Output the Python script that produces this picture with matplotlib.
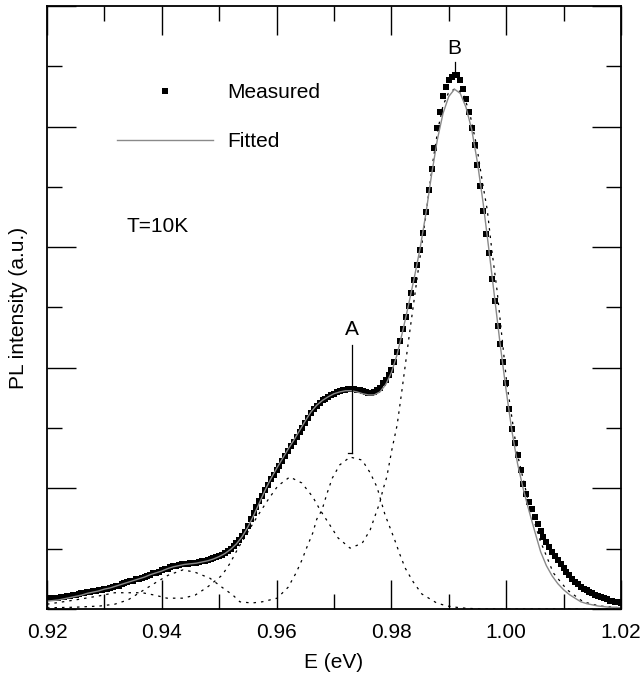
import numpy as np
import matplotlib
matplotlib.use('Agg')
import matplotlib.pyplot as plt
from matplotlib.ticker import MultipleLocator

plt.rcParams['font.family'] = ['Liberation Sans', 'DejaVu Sans']

# measured PL spectrum, sampled every 0.5 meV
E_meas = np.linspace(0.92, 1.02, 201)
I_meas = [
    0.18, 0.18, 0.19, 0.19, 0.19, 0.20, 0.20, 0.21, 0.22, 0.23,
    0.24, 0.25, 0.26, 0.27, 0.28, 0.29, 0.30, 0.30, 0.31, 0.32,
    0.33, 0.34, 0.35, 0.37, 0.38, 0.39, 0.41, 0.43, 0.44, 0.46,
    0.47, 0.49, 0.50, 0.52, 0.53, 0.55, 0.57, 0.59, 0.60, 0.62,
    0.64, 0.66, 0.67, 0.69, 0.71, 0.72, 0.73, 0.74, 0.75, 0.75,
    0.76, 0.76, 0.77, 0.78, 0.79, 0.80, 0.81, 0.83, 0.84, 0.86,
    0.88, 0.90, 0.93, 0.96, 0.99, 1.04, 1.09, 1.15, 1.21, 1.28,
    1.38, 1.50, 1.60, 1.70, 1.79, 1.88, 1.97, 2.06, 2.15, 2.23,
    2.31, 2.38, 2.46, 2.54, 2.62, 2.70, 2.77, 2.85, 2.93, 3.01,
    3.09, 3.17, 3.25, 3.31, 3.36, 3.41, 3.46, 3.49, 3.52, 3.55,
    3.57, 3.60, 3.62, 3.63, 3.64, 3.65, 3.65, 3.65, 3.64, 3.63,
    3.61, 3.60, 3.59, 3.59, 3.60, 3.63, 3.67, 3.74, 3.80, 3.88,
    3.97, 4.10, 4.26, 4.45, 4.65, 4.84, 5.03, 5.24, 5.46, 5.70,
    5.95, 6.23, 6.58, 6.95, 7.30, 7.65, 7.98, 8.25, 8.50, 8.66,
    8.77, 8.83, 8.86, 8.85, 8.77, 8.62, 8.45, 8.24, 7.98, 7.70,
    7.36, 7.02, 6.60, 6.22, 5.90, 5.48, 5.10, 4.70, 4.40, 4.10,
    3.75, 3.32, 2.98, 2.76, 2.55, 2.30, 2.07, 1.91, 1.78, 1.66,
    1.53, 1.41, 1.30, 1.20, 1.11, 1.03, 0.95, 0.88, 0.81, 0.75,
    0.68, 0.62, 0.56, 0.50, 0.45, 0.41, 0.37, 0.34, 0.31, 0.28,
    0.26, 0.24, 0.22, 0.20, 0.18, 0.16, 0.14, 0.13, 0.12, 0.11,
    0.10,
]

# fitted curve, every 1 meV
E_fit = np.linspace(0.92, 1.02, 101)
I_fit = [
    0.13, 0.14, 0.15, 0.17, 0.19, 0.21, 0.23, 0.26, 0.28, 0.30,
    0.33, 0.35, 0.38, 0.41, 0.44, 0.47, 0.50, 0.53, 0.57, 0.60,
    0.63, 0.67, 0.70, 0.72, 0.74, 0.75, 0.76, 0.78, 0.80, 0.83,
    0.87, 0.92, 0.99, 1.08, 1.20, 1.36, 1.55, 1.76, 1.97, 2.16,
    2.33, 2.49, 2.65, 2.80, 2.96, 3.12, 3.27, 3.38, 3.46, 3.52,
    3.57, 3.60, 3.62, 3.62, 3.60, 3.57, 3.55, 3.55, 3.60, 3.72,
    3.92, 4.22, 4.62, 5.05, 5.50, 5.98, 6.55, 7.20, 7.78, 8.22,
    8.50, 8.62, 8.55, 8.32, 7.95, 7.40, 6.72, 5.95, 5.15, 4.35,
    3.62, 2.95, 2.40, 1.98, 1.62, 1.28, 0.95, 0.72, 0.55, 0.42,
    0.32, 0.24, 0.18, 0.12, 0.09, 0.07, 0.05, 0.04, 0.03, 0.03,
    0.02,
]

# dotted component curves
E_dot1 = [0.920, 0.9249, 0.9292, 0.9318, 0.9345, 0.9366, 0.9388, 0.9409, 0.9437,
          0.9458, 0.9479, 0.9505, 0.9519, 0.9533, 0.9550, 0.9568, 0.9585, 0.9602,
          0.9623, 0.9644, 0.9663, 0.9676, 0.9693, 0.9707, 0.9728, 0.9749, 0.9763,
          0.9771, 0.9780, 0.9785, 0.9792, 0.9801, 0.9810, 0.9818, 0.9832, 0.9845,
          0.9859, 0.9872, 0.9881, 0.9890, 0.9899, 0.9911, 0.9925, 0.9937, 0.9949,
          0.9958, 0.9967, 0.9975, 0.9984, 1.0001, 1.0019, 1.0041, 1.0059, 1.0082,
          1.0106, 1.0134, 1.0163, 1.0198]
I_dot1 = [0.08, 0.15, 0.22, 0.27, 0.27, 0.27, 0.23, 0.18, 0.18,
          0.23, 0.36, 0.56, 0.76, 1.01, 1.28, 1.56, 1.81, 2.04,
          2.19, 2.09, 1.86, 1.64, 1.39, 1.18, 1.01, 1.09, 1.31,
          1.53, 1.77, 1.97, 2.19, 2.65, 3.05, 3.60, 4.60, 5.50,
          6.45, 7.40, 7.95, 8.35, 8.55, 8.63, 8.55, 8.20, 7.66,
          7.11, 6.62, 5.95, 5.29, 3.75, 2.59, 1.69, 1.14, 0.60,
          0.32, 0.12, 0.05, 0.02]

E_dot2 = [0.920, 0.9249, 0.9292, 0.9318, 0.9341, 0.9366, 0.9388, 0.9411, 0.9437,
          0.9458, 0.9484, 0.9505, 0.9524, 0.9536, 0.9557, 0.9575, 0.9601, 0.9620,
          0.9634, 0.9644, 0.9653, 0.9663, 0.9670, 0.9679, 0.9688, 0.9697, 0.9710,
          0.9728, 0.9749, 0.9763, 0.9775, 0.9789, 0.9798, 0.9806, 0.9815, 0.9824,
          0.9838, 0.9853, 0.9879, 0.9897, 0.9920, 0.9954, 1.020]
I_dot2 = [0.02, 0.03, 0.05, 0.08, 0.15, 0.30, 0.43, 0.56, 0.65,
          0.61, 0.51, 0.36, 0.23, 0.12, 0.10, 0.12, 0.18, 0.36,
          0.60, 0.81, 1.03, 1.26, 1.49, 1.64, 1.92, 2.17, 2.39,
          2.52, 2.47, 2.26, 2.02, 1.56, 1.34, 1.14, 0.90, 0.68,
          0.45, 0.25, 0.10, 0.05, 0.02, 0.00, 0.00]

# peak markers: label, x, line bottom, line top, text y
peak_labels = ['A', 'B']
peak_E = [0.9731, 0.9910]
peak_lo = [2.59, 8.84]
peak_hi = [4.38, 9.07]
peak_text_y = [4.64, 9.30]

fig = plt.figure(figsize=(6.4, 6.86), dpi=100)
ax = fig.add_axes([0.0734, 0.1122, 0.8969, 0.8791])

ax.plot(E_dot1, I_dot1, color='black', lw=0.9, ls=(0, (2, 4)))
ax.plot(E_dot2, I_dot2, color='black', lw=0.9, ls=(0, (2, 4)))
ax.plot(E_meas, I_meas, 's', color='black', ms=4.6, mew=0, label='Measured')
ax.plot(E_fit, I_fit, color='#8a8a8a', lw=1.0, label='Fitted')

for lab, x, lo, hi, ty in zip(peak_labels, peak_E, peak_lo, peak_hi, peak_text_y):
    ax.plot([x, x], [lo, hi], color='black', lw=0.9)
    ax.text(x, ty, lab, ha='center', va='center', fontsize=15)
# little foot on the A marker
ax.plot([peak_E[0] - 0.0007, peak_E[0]], [peak_lo[0], peak_lo[0]], color='black', lw=0.9)

ax.text(0.9393, 6.35, 'T=10K', ha='center', va='center', fontsize=15)

ax.set_xlim(0.92, 1.02)
ax.set_ylim(0, 10)
ax.xaxis.set_major_locator(MultipleLocator(0.02))
ax.xaxis.set_minor_locator(MultipleLocator(0.01))
ax.yaxis.set_major_locator(MultipleLocator(2))
ax.yaxis.set_minor_locator(MultipleLocator(1))
ax.xaxis.set_major_formatter(matplotlib.ticker.FormatStrFormatter('%.2f'))
ax.tick_params(which='both', direction='in', top=True, right=True, width=1.0)
ax.tick_params(which='major', length=21, labelsize=15, pad=10)
ax.tick_params(which='minor', length=11)
ax.tick_params(axis='y', which='both', labelleft=False)
for s in ax.spines.values():
    s.set_linewidth(1.3)

ax.set_xlabel('E (eV)', fontsize=15, labelpad=8)
ax.set_ylabel('PL intensity (a.u.)', fontsize=15, labelpad=14)

ax.legend(loc='upper left', bbox_to_anchor=(0.122, 0.872), bbox_transform=ax.transAxes,
          frameon=False, fontsize=15, numpoints=1, handlelength=4.6,
          handletextpad=0.7, labelspacing=1.45, borderpad=0, borderaxespad=0,
          markerscale=0.8)

fig.savefig('out.png', dpi=100)
